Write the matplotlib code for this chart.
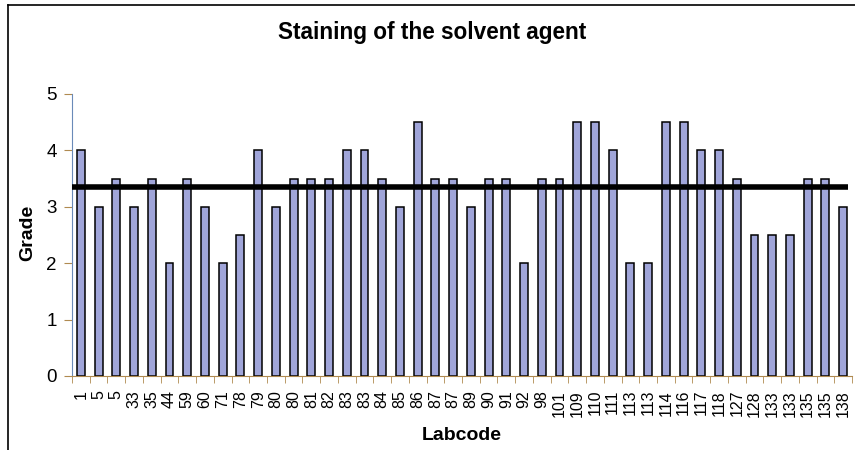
import matplotlib.pyplot as plt
import numpy as np
from matplotlib.lines import Line2D

# Labcodes and grades
labcodes = ['1', '5', '5', '33', '35', '44', '59', '60', '71', '78', '79', '80', '80', '81',
            '82', '83', '83', '84', '85', '86', '87', '87', '89', '90', '91', '92', '98',
            '101', '109', '110', '111', '113', '113', '114', '116', '117', '118', '127',
            '128', '133', '133', '135', '135', '138']
grades = [4, 3, 3.5, 3, 3.5, 2, 3.5, 3, 2, 2.5, 4, 3, 3.5, 3.5,
          3.5, 4, 4, 3.5, 3, 4.5, 3.5, 3.5, 3, 3.5, 3.5, 2, 3.5,
          3.5, 4.5, 4.5, 4, 2, 2, 4.5, 4.5, 4, 4, 3.5,
          2.5, 2.5, 2.5, 3.5, 3.5, 3]

plt.rcParams['font.family'] = ['Liberation Sans', 'DejaVu Sans']

fig = plt.figure(figsize=(8.55, 4.5), dpi=100)
ax = fig.add_axes([72 / 855, 1 - 376 / 450, (852 - 72) / 855, (376 - 94) / 450])

x = np.arange(len(grades))
ax.bar(x, grades, width=0.45, color='#a0a5d9', edgecolor='black', linewidth=1.1, zorder=2)

# mean line
ax.hlines(np.mean(grades), -0.5, len(grades) - 0.7, color='black', linewidth=4, zorder=3)

ax.set_xlim(-0.5, len(grades) - 0.5)
ax.set_ylim(0, 5)
ax.set_yticks([0, 1, 2, 3, 4, 5])
ax.set_xticks(x)
ax.set_xticklabels(labcodes, rotation=90, fontsize=11.5)
ax.set_xticks(np.arange(-0.5, len(grades)), minor=True)
ax.tick_params(axis='x', which='major', length=0, pad=10)
ax.tick_params(axis='x', which='minor', length=5, color='#b08a50', direction='out')
ax.tick_params(axis='y', length=6, color='#b08a50', labelsize=13.5, direction='out', pad=5)

for s in ['top', 'right']:
    ax.spines[s].set_visible(False)
ax.spines['left'].set_color('#6a8ab8')
ax.spines['bottom'].set_color('#b08a50')
ax.spines['left'].set_linewidth(0.8)
ax.spines['bottom'].set_linewidth(0.8)

fig.text(432 / 855, 1 - 32 / 450, 'Staining of the solvent agent', ha='center', va='center',
         fontsize=16.3, fontweight='bold')
fig.text(28 / 855, 1 - 233 / 450, 'Grade', ha='center', va='center', rotation=90,
         fontsize=14, fontweight='bold')
fig.text(462 / 855, 1 - 435 / 450, 'Labcode', ha='center', va='center',
         fontsize=14, fontweight='bold')

# outer frame (top and left edges visible)
fig.add_artist(Line2D([8 / 855, 8 / 855], [0, 1 - 5 / 450], color='black', linewidth=1.2,
                      transform=fig.transFigure))
fig.add_artist(Line2D([8 / 855, 1], [1 - 5 / 450, 1 - 5 / 450], color='black', linewidth=1.2,
                      transform=fig.transFigure))

fig.savefig('out.png', dpi=100)
